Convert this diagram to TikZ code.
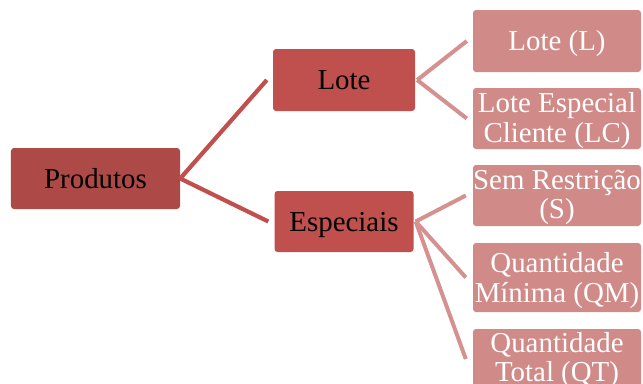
\documentclass[tikz,border=0pt]{standalone}
\usepackage{fontspec}
\setmainfont{Liberation Serif}
\definecolor{rootfill}{HTML}{AD4A47}
\definecolor{midfill}{HTML}{C0504D}
\definecolor{leaffill}{HTML}{D08B89}
\definecolor{midline}{HTML}{C0504D}
\definecolor{leafline}{HTML}{D5918F}
\begin{document}
\begin{tikzpicture}[x=1bp,y=-1bp,
  box/.style={rectangle, rounded corners=3bp, inner sep=0pt, align=center,
    font=\fontsize{29}{29.5}\selectfont},
  oneline/.style={text height=20bp, text depth=1bp},
  rootbox/.style={box, oneline, fill=rootfill, text=black},
  midbox/.style={box, oneline, fill=midfill, text=black},
  leafbox/.style={box, fill=leaffill, text=white, minimum width=168bp},
  link1/.style={draw=midline, line width=4.2bp},
  link2/.style={draw=leafline, line width=4bp}]
\useasboundingbox (0,0) rectangle (643,383);
\clip (0,0) rectangle (643,383);
\fill[white] (0,0) rectangle (643,383);

% hierarchy boxes
\node[rootbox, minimum width=169bp, minimum height=61bp] (prod) at (95.5,178.5) {Produtos};
\node[midbox, minimum width=142bp, minimum height=62bp] (lote) at (344,80) {Lote};
\node[midbox, minimum width=139bp, minimum height=61bp] (esp) at (344,221.5) {Especiais};

\node[leafbox, oneline, minimum height=62bp] (ll) at (557,41) {Lote (L)};
\node[leafbox, text depth=2bp, minimum height=61bp] (lc) at (557,118.5) {Lote Especial\\Cliente (LC)};
\node[leafbox, text depth=2bp, minimum height=61bp] (s) at (557,195.5) {Sem Restrição\\(S)};
\node[leafbox, text depth=-3bp, minimum height=69bp] (qm) at (557,277.5) {Quantidade\\Mínima (QM)};
\node[leafbox, text depth=4bp, minimum height=60bp] (qt) at (557,359) {Quantidade\\Total (QT)};

% connectors
\draw[link1] (prod.east) -- ([xshift=-6bp]lote.west);
\draw[link1] (prod.east) -- ([xshift=-6bp]esp.west);
\draw[link2] ([xshift=2bp]lote.east) -- ([xshift=-6bp]ll.west);
\draw[link2] ([xshift=2bp]lote.east) -- ([xshift=-6bp]lc.west);
\draw[link2] ([xshift=2bp]esp.east) -- ([xshift=-7bp]s.west);
\draw[link2] ([xshift=2bp]esp.east) -- ([xshift=-7bp]qm.west);
\draw[link2] ([xshift=2bp]esp.east) -- ([xshift=-7bp]qt.west);
\end{tikzpicture}
\end{document}
